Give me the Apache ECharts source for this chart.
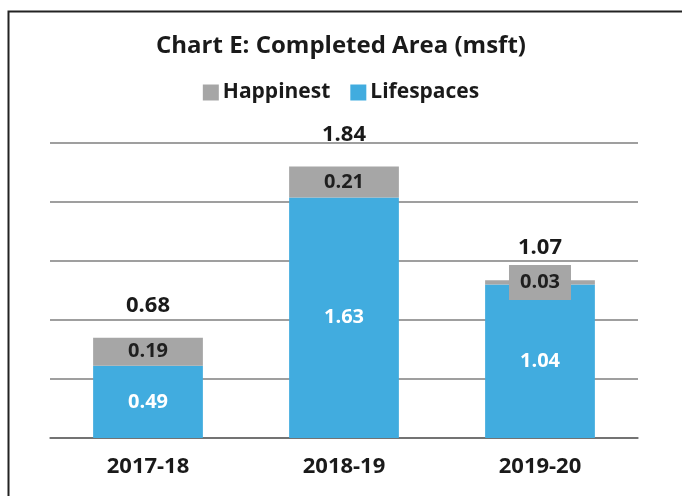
<!DOCTYPE html>
<html>
<head>
<meta charset="utf-8">
<script src="https://cdn.jsdelivr.net/npm/echarts@6/dist/echarts.min.js"></script>
<style>
  html, body { margin: 0; padding: 0; background: #fff; }
  #chart { width: 682px; height: 496px; }
</style>
</head>
<body>
<div id="chart"></div>
<script>
var years = ['2017-18', '2018-19', '2019-20'];
var happinest = [0.19, 0.21, 0.03];
var lifespaces = [0.49, 1.63, 1.04];
var totals = [0.68, 1.84, 1.07];

var font = '"Open Sans", Lato, sans-serif';
var chart = echarts.init(document.getElementById('chart'));

// small gray segments get a label box so the value stays readable
var happinestData = happinest.map(function (v) {
    if (v < 0.1) {
        return { value: v, label: { backgroundColor: '#a6a6a6', padding: [8, 11, 7, 11] } };
    }
    return v;
});

var option = {
    backgroundColor: '#fff',
    animation: false,
    title: {
        text: 'Chart E: Completed Area (msft)',
        left: 'center',
        top: 29,
        textStyle: { fontFamily: font, fontSize: 24, fontWeight: 'bold', color: '#1a1a1a' }
    },
    legend: {
        data: ['Happinest', 'Lifespaces'],
        top: 77,
        left: 'center',
        icon: 'rect',
        itemWidth: 16,
        itemHeight: 16,
        itemGap: 20,
        textStyle: { fontFamily: font, fontSize: 21, fontWeight: 'bold', color: '#1a1a1a', padding: [0, 0, 0, -1] }
    },
    graphic: [{
        type: 'polyline',
        shape: { points: [[8.5, 500], [8.5, 11.5], [690, 11.5]] },
        style: { stroke: '#222', lineWidth: 2, fill: null }
    }],
    grid: { left: 50, right: 44, top: 143, bottom: 58 },
    xAxis: {
        type: 'category',
        data: years,
        axisTick: { show: false },
        axisLine: { lineStyle: { color: '#666', width: 1.5 } },
        axisLabel: { fontFamily: font, fontSize: 22, fontWeight: 'bold', color: '#1a1a1a', margin: 18 }
    },
    yAxis: {
        type: 'value',
        min: 0,
        max: 2,
        interval: 0.4,
        axisLabel: { show: false },
        axisLine: { show: false },
        axisTick: { show: false },
        splitLine: { lineStyle: { color: '#7f7f7f', width: 1.5 } }
    },
    series: [
        {
            name: 'Lifespaces',
            type: 'bar',
            stack: 'area',
            barWidth: '56%',
            data: lifespaces,
            itemStyle: { color: '#41acdf' },
            label: {
                show: true,
                position: 'inside',
                formatter: function (p) { return p.value.toFixed(2); },
                fontFamily: font, fontSize: 20, fontWeight: 'bold', color: '#fff'
            }
        },
        {
            name: 'Happinest',
            type: 'bar',
            stack: 'area',
            data: happinestData,
            itemStyle: { color: '#a6a6a6' },
            label: {
                show: true,
                position: 'inside',
                formatter: function (p) { return p.value.toFixed(2); },
                fontFamily: font, fontSize: 20, fontWeight: 'bold', color: '#1f1f1f'
            }
        },
        {
            name: 'Total',
            type: 'scatter',
            data: totals,
            symbolSize: 0,
            silent: true,
            itemStyle: { opacity: 1 },
            label: {
                show: true,
                position: 'top',
                distance: 21,
                formatter: function (p) { return p.value.toFixed(2); },
                fontFamily: font, fontSize: 22, fontWeight: 'bold', color: '#1a1a1a'
            }
        }
    ]
};
chart.setOption(option);
</script>
</body>
</html>
